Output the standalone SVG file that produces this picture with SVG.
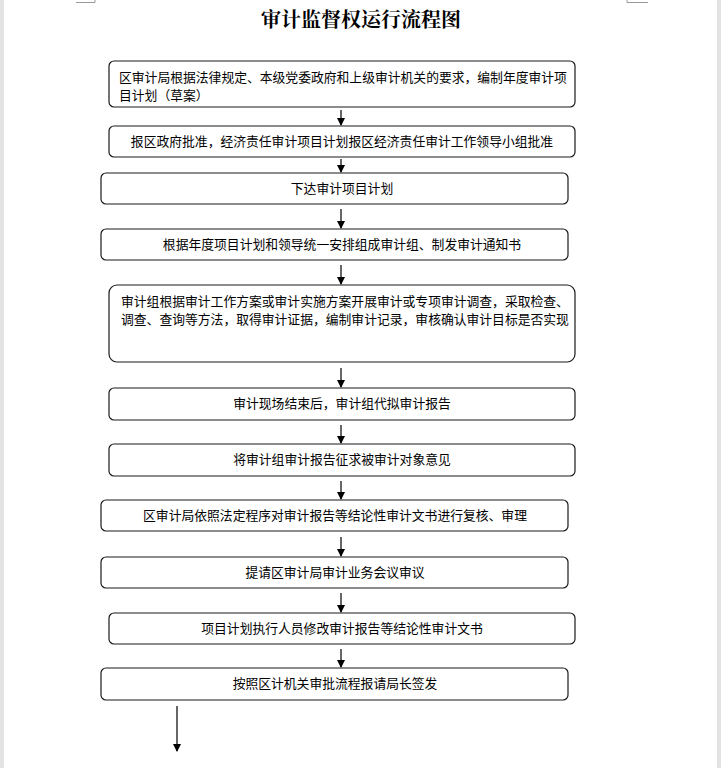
<svg xmlns="http://www.w3.org/2000/svg" width="721" height="768" viewBox="0 0 721 768">
<style>
.box{fill:#fff;stroke:#1a1a1a;stroke-width:1.2}
.t{font-family:"Noto Sans CJK SC","Liberation Sans",sans-serif;font-size:12.8px;fill:#000}
.c{text-anchor:middle}
.ttl{font-family:"Noto Serif CJK SC","Noto Sans CJK SC",serif;font-size:20px;font-weight:bold;text-anchor:middle;fill:#000}
.ln{stroke:#000;stroke-width:1.2;fill:none}
.mk{stroke:#999;stroke-width:1;fill:none}
</style>
<defs>
<marker id="ah" viewBox="0 0 8 8" refX="7" refY="4" markerWidth="8" markerHeight="8" markerUnits="userSpaceOnUse" orient="auto">
<path d="M0,0 L8,4 L0,8 z" fill="#000"/>
</marker>
</defs>
<rect x="0" y="0" width="721" height="768" fill="#fff"/>
<rect x="0" y="0" width="4" height="768" fill="#e3e3e3"/>
<rect x="717" y="0" width="4" height="768" fill="#e3e3e3"/>
<path class="mk" d="M76,2.5 H95 V0 M627,2.5 H648 M627,2.5 V0"/>
<text class="ttl" x="361" y="27">审计监督权运行流程图</text>

<g id="n1"><rect class="box" x="109" y="61" width="466" height="46" rx="5"/>
<text class="t" x="119" y="82">区审计局根据法律规定、本级党委政府和上级审计机关的要求，编制年度审计项</text>
<text class="t" x="119" y="100">目计划（草案）</text></g>
<g id="n2"><rect class="box" x="109" y="126" width="466" height="31" rx="5"/>
<text class="t c" x="342" y="146">报区政府批准，经济责任审计项目计划报区经济责任审计工作领导小组批准</text></g>
<g id="n3"><rect class="box" x="101" y="173" width="467" height="31" rx="5"/>
<text class="t c" x="342" y="193">下达审计项目计划</text></g>
<g id="n4"><rect class="box" x="101" y="229" width="467" height="31" rx="5"/>
<text class="t c" x="342" y="249">根据年度项目计划和领导统一安排组成审计组、制发审计通知书</text></g>
<g id="n5"><rect class="box" x="109" y="285" width="466" height="77" rx="8"/>
<text class="t" x="121" y="306">审计组根据审计工作方案或审计实施方案开展审计或专项审计调查，采取检查、</text>
<text class="t" x="121" y="324">调查、查询等方法，取得审计证据，编制审计记录，审核确认审计目标是否实现</text></g>
<g id="n6"><rect class="box" x="109" y="388" width="466" height="32" rx="5"/>
<text class="t c" x="342" y="408">审计现场结束后，审计组代拟审计报告</text></g>
<g id="n7"><rect class="box" x="109" y="444" width="466" height="32" rx="5"/>
<text class="t c" x="342" y="464">将审计组审计报告征求被审计对象意见</text></g>
<g id="n8"><rect class="box" x="101" y="500" width="467" height="31" rx="5"/>
<text class="t c" x="335" y="520">区审计局依照法定程序对审计报告等结论性审计文书进行复核、审理</text></g>
<g id="n9"><rect class="box" x="101" y="557" width="467" height="31" rx="5"/>
<text class="t c" x="335" y="577">提请区审计局审计业务会议审议</text></g>
<g id="n10"><rect class="box" x="109" y="613" width="466" height="31" rx="5"/>
<text class="t c" x="342" y="633">项目计划执行人员修改审计报告等结论性审计文书</text></g>
<g id="n11"><rect class="box" x="101" y="668" width="467" height="32" rx="5"/>
<text class="t c" x="335" y="688">按照区计机关审批流程报请局长签发</text></g>

<g id="connectors">
<line class="ln" x1="341" y1="110" x2="341" y2="125" marker-end="url(#ah)"/>
<line class="ln" x1="341" y1="159" x2="341" y2="172" marker-end="url(#ah)"/>
<line class="ln" x1="341" y1="209" x2="341" y2="228" marker-end="url(#ah)"/>
<line class="ln" x1="341" y1="265" x2="341" y2="284" marker-end="url(#ah)"/>
<line class="ln" x1="341" y1="368" x2="341" y2="387" marker-end="url(#ah)"/>
<line class="ln" x1="341" y1="425" x2="341" y2="443" marker-end="url(#ah)"/>
<line class="ln" x1="341" y1="481" x2="341" y2="499" marker-end="url(#ah)"/>
<line class="ln" x1="341" y1="537" x2="341" y2="556" marker-end="url(#ah)"/>
<line class="ln" x1="341" y1="593" x2="341" y2="612" marker-end="url(#ah)"/>
<line class="ln" x1="341" y1="649" x2="341" y2="667" marker-end="url(#ah)"/>
<line class="ln" x1="177" y1="706" x2="177" y2="751" marker-end="url(#ah)"/>
</g>
</svg>
